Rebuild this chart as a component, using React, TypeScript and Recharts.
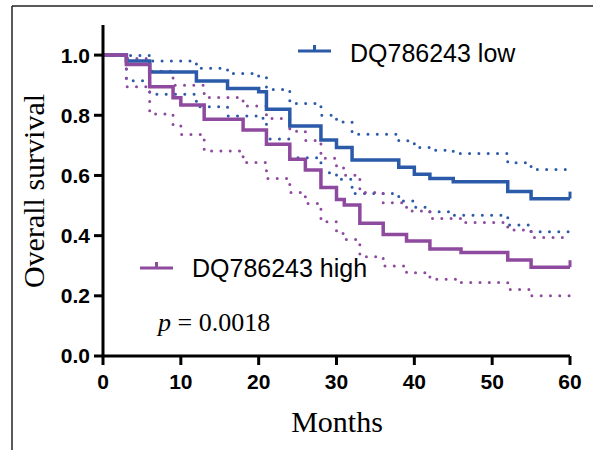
import { LineChart, Line, XAxis, YAxis } from "recharts";

// step points (months / survival fraction)
const lowTime = [0, 3, 6, 12, 16, 20, 21, 24, 28, 30, 32, 38, 40, 42, 45, 52, 55, 60];
const lowSurv = [1.0, 0.98, 0.944, 0.914, 0.889, 0.878, 0.82, 0.764, 0.718, 0.693, 0.651, 0.627, 0.604, 0.59, 0.579, 0.547, 0.523, 0.523];
const lowUpper = [1.0, 0.999, 0.98, 0.956, 0.939, 0.929, 0.886, 0.839, 0.8, 0.778, 0.737, 0.715, 0.693, 0.684, 0.673, 0.642, 0.62, 0.62];
const lowLower = [1.0, 0.915, 0.87, 0.828, 0.798, 0.79, 0.721, 0.659, 0.609, 0.587, 0.54, 0.515, 0.494, 0.479, 0.468, 0.435, 0.413, 0.413];

const highTime = [0, 3, 6, 9, 10, 13, 18, 21, 24, 26, 28, 30, 31, 33, 36, 39, 42, 46, 52, 55, 60];
const highSurv = [1.0, 0.969, 0.895, 0.858, 0.834, 0.787, 0.751, 0.704, 0.654, 0.618, 0.56, 0.52, 0.502, 0.441, 0.404, 0.382, 0.356, 0.344, 0.319, 0.295, 0.295];
const highUpper = [1.0, 0.989, 0.946, 0.9, 0.9, 0.859, 0.831, 0.789, 0.747, 0.716, 0.657, 0.625, 0.601, 0.543, 0.509, 0.482, 0.457, 0.444, 0.419, 0.394, 0.394];
const highLower = [1.0, 0.895, 0.804, 0.768, 0.736, 0.681, 0.643, 0.59, 0.543, 0.507, 0.446, 0.407, 0.387, 0.33, 0.299, 0.277, 0.255, 0.244, 0.221, 0.2, 0.2];

const xTicks = [0, 10, 20, 30, 40, 50, 60];
const yTicks = [0, 0.2, 0.4, 0.6, 0.8, 1.0];

const BLUE = "#2a5aa8";
const PURPLE = "#8e4a9e";

const toPoints = (times: number[], values: number[]) =>
  times.map((t, i) => ({ t, s: values[i] }));

// small censor tick at the end of each curve
const endTick = (color: string, last: number) => (props: any) => {
  const { cx, cy, index } = props;
  if (index !== last) return <g key={`d-${index}`} />;
  return <line key={`d-${index}`} x1={cx} y1={cy} x2={cx} y2={cy - 7} stroke={color} strokeWidth={3} />;
};

const tickStyle = {
  fontSize: 21,
  fontWeight: "bold" as const,
  fill: "#000",
  fontFamily: "'Liberation Sans', Arial, sans-serif",
};

const App = () => {
  return (
    <div style={{ position: "absolute", left: 0, top: 0, width: 593, height: 450, background: "#fff" }}>
      <LineChart width={593} height={450} margin={{ top: 25, right: 23, left: 0, bottom: 0 }}>
        <XAxis
          type="number"
          dataKey="t"
          domain={[0, 60]}
          ticks={xTicks}
          height={94}
          tick={tickStyle}
          tickSize={9}
          tickMargin={9}
          axisLine={{ stroke: "#000", strokeWidth: 3 }}
          tickLine={{ stroke: "#000", strokeWidth: 3 }}
        />
        <YAxis
          type="number"
          dataKey="s"
          domain={[0, 1.1]}
          ticks={yTicks}
          width={103}
          tick={tickStyle}
          tickSize={9}
          tickMargin={4}
          tickFormatter={(v: number) => v.toFixed(1)}
          axisLine={{ stroke: "#000", strokeWidth: 3 }}
          tickLine={{ stroke: "#000", strokeWidth: 3 }}
        />
        <Line data={toPoints(lowTime, lowUpper)} dataKey="s" type="stepAfter" stroke={BLUE} strokeWidth={3} strokeDasharray="0 9.3" strokeLinecap="round" dot={false} isAnimationActive={false} />
        <Line data={toPoints(lowTime, lowLower)} dataKey="s" type="stepAfter" stroke={BLUE} strokeWidth={3} strokeDasharray="0 9.3" strokeLinecap="round" dot={false} isAnimationActive={false} />
        <Line data={toPoints(highTime, highUpper)} dataKey="s" type="stepAfter" stroke={PURPLE} strokeWidth={3} strokeDasharray="0 9.3" strokeLinecap="round" dot={false} isAnimationActive={false} />
        <Line data={toPoints(highTime, highLower)} dataKey="s" type="stepAfter" stroke={PURPLE} strokeWidth={3} strokeDasharray="0 9.3" strokeLinecap="round" dot={false} isAnimationActive={false} />
        <Line data={toPoints(lowTime, lowSurv)} dataKey="s" type="stepAfter" stroke={BLUE} strokeWidth={3.5} dot={endTick(BLUE, lowTime.length - 1)} isAnimationActive={false} />
        <Line data={toPoints(highTime, highSurv)} dataKey="s" type="stepAfter" stroke={PURPLE} strokeWidth={3.5} dot={endTick(PURPLE, highTime.length - 1)} isAnimationActive={false} />
      </LineChart>

      <svg width={593} height={450} style={{ position: "absolute", left: 0, top: 0, pointerEvents: "none" }}>
        <line x1={12} y1={6} x2={12} y2={450} stroke="#222" strokeWidth={1.5} />
        <line x1={12} y1={6} x2={593} y2={6} stroke="#222" strokeWidth={1.5} />

        <text transform="translate(44,191) rotate(-90)" textAnchor="middle" fontFamily="'Liberation Serif', 'Times New Roman', serif" fontSize={30} fill="#000">
          Overall survival
        </text>
        <text x={337} y={432} textAnchor="middle" fontFamily="'Liberation Serif', 'Times New Roman', serif" fontSize={30} fill="#000">
          Months
        </text>

        <line x1={298} y1={51} x2={331} y2={51} stroke={BLUE} strokeWidth={3} />
        <line x1={314.5} y1={45} x2={314.5} y2={51} stroke={BLUE} strokeWidth={3} />
        <text x={350} y={62} fontFamily="'Liberation Sans', Arial, sans-serif" fontSize={25} fill="#000">
          DQ786243 low
        </text>

        <line x1={140} y1={268} x2={173} y2={268} stroke={PURPLE} strokeWidth={3} />
        <line x1={156.5} y1={262} x2={156.5} y2={268} stroke={PURPLE} strokeWidth={3} />
        <text x={192} y={277} fontFamily="'Liberation Sans', Arial, sans-serif" fontSize={25} fill="#000">
          DQ786243 high
        </text>

        <text x={158} y={331} fontFamily="'Liberation Serif', 'Times New Roman', serif" fontSize={26} fill="#000">
          <tspan fontStyle="italic">p</tspan> = 0.0018
        </text>
      </svg>
    </div>
  );
};

export default App;
